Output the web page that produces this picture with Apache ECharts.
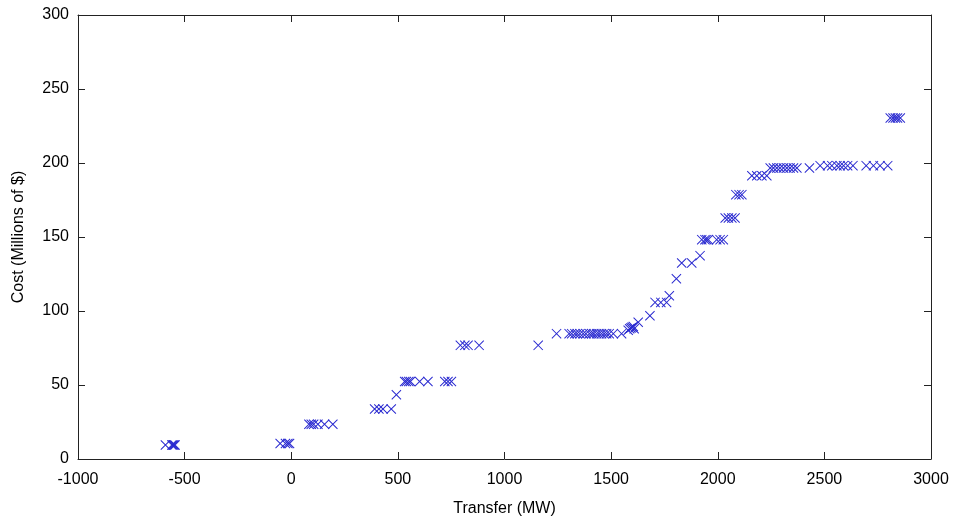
<!DOCTYPE html>
<html>
<head>
<meta charset="utf-8">
<script src="https://cdn.jsdelivr.net/npm/echarts@6/dist/echarts.min.js"></script>
<style>html,body{margin:0;padding:0;background:#fff;}#c{width:953px;height:516px;}</style>
</head>
<body>
<div id="c"></div>
<script>
const xTitle = 'Transfer (MW)';
const yTitle = 'Cost (Millions of $)';
const transfer = [
  -590, -560, -555, -550, -545,
  -52, -27, -16, -8,
  83, 94, 105, 125, 156, 195,
  391, 411, 430, 469,
  493,
  532, 540, 551, 559, 602, 641, 720, 735, 751,
  793, 814, 829, 881,
  1158,
  1244, 1303, 1315, 1330, 1341, 1354, 1369, 1382, 1398, 1409, 1419, 1432, 1443, 1455, 1467, 1479, 1491, 1510, 1549,
  1580, 1587, 1593, 1598, 1604, 1608,
  1627,
  1682,
  1706, 1733, 1760,
  1773,
  1806,
  1831, 1878,
  1917,
  1925, 1940, 1948, 1956, 1995, 2011, 2026,
  2035, 2050, 2066, 2081,
  2085, 2100, 2113,
  2160, 2183, 2207, 2230,
  2246, 2261, 2277, 2292, 2308, 2324, 2339, 2355, 2371, 2430,
  2480, 2515, 2535, 2559, 2574, 2590, 2609, 2634, 2696, 2730, 2761, 2797,
  2809, 2822, 2833, 2843, 2856
];
const cost = [
  9.5, 9.5, 9.5, 9.5, 9.5,
  10.5, 10.5, 10.5, 10.5,
  23.5, 23.5, 23.5, 23.5, 23.5, 23.5,
  33.8, 33.8, 33.8, 33.8,
  43.4,
  52.4, 52.4, 52.4, 52.4, 52.4, 52.4, 52.4, 52.4, 52.4,
  76.8, 76.8, 76.8, 76.8,
  76.8,
  84.7, 84.7, 84.7, 84.7, 84.7, 84.7, 84.7, 84.7, 84.7, 84.7, 84.7, 84.7, 84.7, 84.7, 84.7, 84.7, 84.7, 84.7, 84.7,
  87, 88, 88.5, 89, 89.5, 88,
  92.4,
  96.8,
  105.8, 105.8, 105.8,
  110.3,
  121.8,
  132.4, 132.4,
  137.4,
  148.2, 148.2, 148.2, 148.2, 148.2, 148.2, 148.2,
  162.8, 162.8, 162.8, 162.8,
  178.6, 178.6, 178.6,
  191.4, 191.4, 191.4, 191.4,
  196.6, 196.6, 196.6, 196.6, 196.6, 196.6, 196.6, 196.6, 196.6, 196.6,
  198.2, 198.2, 198.2, 198.2, 198.2, 198.2, 198.2, 198.2, 198.2, 198.2, 198.2, 198.2,
  230.4, 230.4, 230.4, 230.4, 230.4
];
const xMin = -1000, xMax = 3000, xStep = 500;
const yMin = 0, yMax = 300, yStep = 50;

const points = transfer.map((t, i) => [t, cost[i]]);
const font = 'Liberation Sans, Arial, sans-serif';
const axisCol = '#222';
const lbl = {color: '#000', fontFamily: font, fontSize: 16, formatter: v => String(v)};
const crossPath = 'path://M7,0L100,93L93,100L0,7ZM93,0L100,7L7,100L0,93Z';

const chart = echarts.init(document.getElementById('c'), null, {renderer: 'canvas'});
chart.setOption({
  animation: false,
  backgroundColor: '#fff',
  grid: {left: 78, right: 22, top: 15, bottom: 57, containLabel: false, outerBoundsMode: 'none'},
  xAxis: [
    {type: 'value', min: xMin, max: xMax, interval: xStep, position: 'bottom',
     name: xTitle, nameLocation: 'middle', nameGap: 42,
     nameTextStyle: {color: '#000', fontFamily: font, fontSize: 16},
     axisLine: {show: true, onZero: false, lineStyle: {color: axisCol, width: 1}},
     axisTick: {show: true, inside: true, length: 7, lineStyle: {color: axisCol}},
     axisLabel: Object.assign({margin: 13}, lbl),
     splitLine: {show: false}},
    {type: 'value', min: xMin, max: xMax, interval: xStep, position: 'top',
     axisLine: {show: true, onZero: false, lineStyle: {color: axisCol, width: 1}},
     axisTick: {show: true, inside: true, length: 7, lineStyle: {color: axisCol}},
     axisLabel: {show: false}, splitLine: {show: false}}
  ],
  yAxis: [
    {type: 'value', min: yMin, max: yMax, interval: yStep, position: 'left',
     name: yTitle, nameLocation: 'middle', nameGap: 51,
     nameTextStyle: {color: '#000', fontFamily: font, fontSize: 16},
     axisLine: {show: true, onZero: false, lineStyle: {color: axisCol, width: 1}},
     axisTick: {show: true, inside: true, length: 7, lineStyle: {color: axisCol}},
     axisLabel: Object.assign({margin: 9}, lbl),
     splitLine: {show: false}},
    {type: 'value', min: yMin, max: yMax, interval: yStep, position: 'right',
     axisLine: {show: true, onZero: false, lineStyle: {color: axisCol, width: 1}},
     axisTick: {show: true, inside: true, length: 7, lineStyle: {color: axisCol}},
     axisLabel: {show: false}, splitLine: {show: false}}
  ],
  series: [{
    type: 'scatter',
    xAxisIndex: 0, yAxisIndex: 0,
    data: points,
    symbol: crossPath,
    symbolSize: 10,
    itemStyle: {color: '#2a2ad0', borderWidth: 0, opacity: 1},
    emphasis: {disabled: true}
  }]
});
</script>
</body>
</html>
